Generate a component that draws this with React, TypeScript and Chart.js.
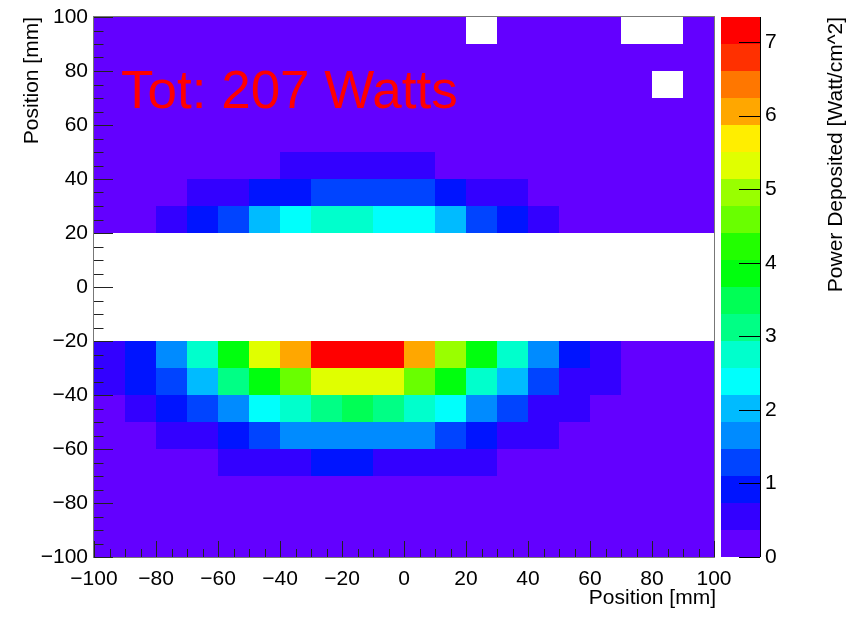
import React, { useEffect, useRef } from 'react';
import { Chart, registerables } from 'chart.js';

Chart.register(...registerables);

// Bin edges along x (mm)
const xEdges = [-100, -90, -80, -70, -60, -50, -40, -30, -20, -10, 0, 10, 20, 30, 40, 50, 60, 70, 80, 90, 100];
// Lower edge (mm) of each row, listed top row first
const yRowLow = [90, 80, 70, 60, 50, 40, 30, 20, 10, 0, -10, -20, -30, -40, -50, -60, -70, -80, -90, -100];

// Power deposited per bin [Watt/cm^2]; 0 = empty bin (not drawn)
const rowY90 = [0.12, 0.1, 0.11, 0.1, 0.12, 0.11, 0.13, 0.12, 0.11, 0.12, 0.1, 0.11, 0, 0.1, 0.12, 0.1, 0.11, 0, 0, 0.1];
const rowY80 = [0.13, 0.12, 0.13, 0.14, 0.13, 0.14, 0.15, 0.14, 0.15, 0.14, 0.13, 0.14, 0.13, 0.12, 0.13, 0.12, 0.12, 0.11, 0.12, 0.11];
const rowY70 = [0.15, 0.14, 0.15, 0.16, 0.17, 0.17, 0.18, 0.18, 0.18, 0.17, 0.17, 0.16, 0.15, 0.15, 0.14, 0.14, 0.13, 0.13, 0, 0.12];
const rowY60 = [0.17, 0.17, 0.18, 0.19, 0.2, 0.21, 0.22, 0.23, 0.23, 0.22, 0.21, 0.2, 0.19, 0.18, 0.17, 0.16, 0.16, 0.15, 0.15, 0.14];
const rowY50 = [0.19, 0.2, 0.21, 0.23, 0.25, 0.27, 0.29, 0.31, 0.32, 0.3, 0.28, 0.26, 0.24, 0.22, 0.2, 0.19, 0.18, 0.17, 0.16, 0.16];
const rowY40 = [0.2, 0.2, 0.22, 0.24, 0.27, 0.32, 0.45, 0.52, 0.56, 0.5, 0.42, 0.32, 0.27, 0.24, 0.22, 0.2, 0.19, 0.18, 0.18, 0.17];
const rowY30 = [0.22, 0.25, 0.3, 0.45, 0.6, 0.8, 0.95, 1.15, 1.3, 1.3, 1.15, 0.82, 0.6, 0.42, 0.3, 0.25, 0.22, 0.2, 0.2, 0.18];
const rowY20 = [0.25, 0.3, 0.5, 0.85, 1.3, 2.0, 2.4, 2.7, 2.8, 2.45, 2.3, 1.95, 1.25, 0.9, 0.5, 0.3, 0.25, 0.22, 0.2, 0.2];
const rowY10 = [0, 0, 0, 0, 0, 0, 0, 0, 0, 0, 0, 0, 0, 0, 0, 0, 0, 0, 0, 0];
const rowY0 = [0, 0, 0, 0, 0, 0, 0, 0, 0, 0, 0, 0, 0, 0, 0, 0, 0, 0, 0, 0];
const rowYm10 = [0, 0, 0, 0, 0, 0, 0, 0, 0, 0, 0, 0, 0, 0, 0, 0, 0, 0, 0, 0];
const rowYm20 = [0, 0, 0, 0, 0, 0, 0, 0, 0, 0, 0, 0, 0, 0, 0, 0, 0, 0, 0, 0];
const rowYm30 = [0.6, 0.95, 1.7, 2.8, 3.85, 5.3, 6.1, 7.2, 7.34, 7.1, 6.0, 4.9, 3.8, 2.7, 1.6, 0.9, 0.5, 0.3, 0.25, 0.2];
const rowYm40 = [0.55, 0.9, 1.25, 2.0, 3.1, 3.9, 4.6, 5.2, 5.4, 5.3, 4.55, 3.8, 2.7, 1.95, 1.2, 0.6, 0.45, 0.3, 0.25, 0.2];
const rowYm50 = [0.3, 0.5, 0.85, 1.25, 1.65, 2.35, 2.8, 3.15, 3.45, 3.1, 2.75, 2.3, 1.6, 1.2, 0.65, 0.45, 0.3, 0.25, 0.2, 0.2];
const rowYm60 = [0.25, 0.3, 0.45, 0.65, 0.95, 1.3, 1.6, 1.7, 1.75, 1.7, 1.55, 1.2, 0.85, 0.6, 0.4, 0.3, 0.25, 0.22, 0.2, 0.18];
const rowYm70 = [0.2, 0.22, 0.26, 0.33, 0.45, 0.6, 0.7, 0.8, 0.78, 0.68, 0.6, 0.5, 0.4, 0.32, 0.27, 0.24, 0.2, 0.2, 0.18, 0.17];
const rowYm80 = [0.18, 0.19, 0.2, 0.22, 0.24, 0.26, 0.28, 0.3, 0.3, 0.29, 0.27, 0.25, 0.23, 0.21, 0.2, 0.19, 0.18, 0.17, 0.16, 0.16];
const rowYm90 = [0.16, 0.17, 0.18, 0.19, 0.2, 0.21, 0.22, 0.23, 0.23, 0.22, 0.21, 0.2, 0.19, 0.18, 0.17, 0.16, 0.16, 0.15, 0.15, 0.14];
const rowYm100 = [0.14, 0.15, 0.15, 0.16, 0.17, 0.18, 0.18, 0.19, 0.19, 0.18, 0.18, 0.17, 0.16, 0.16, 0.15, 0.14, 0.14, 0.13, 0.13, 0.12];

const rows = [rowY90, rowY80, rowY70, rowY60, rowY50, rowY40, rowY30, rowY20, rowY10, rowY0,
  rowYm10, rowYm20, rowYm30, rowYm40, rowYm50, rowYm60, rowYm70, rowYm80, rowYm90, rowYm100];

const binHeight = 10;
const zMax = 7.34;
const nContours = 20;
const palette = ['#6300ff', '#3300ff', '#0014ff', '#0044ff', '#008bff', '#00bbff', '#00fffc', '#00ffcc', '#00ff85', '#00ff55',
  '#00ff0e', '#22ff00', '#69ff00', '#99ff00', '#e0ff00', '#ffee00', '#ffa700', '#ff7700', '#ff3000', '#ff0000'];

const axisTitleX = 'Position [mm]';
const axisTitleY = 'Position [mm]';
const axisTitleZ = 'Power Deposited [Watt/cm^2]';
const totalLabel = 'Tot: 207 Watts';

const FONT = '"Liberation Sans", Arial, Helvetica, sans-serif';

function fmt(v: number) {
  const n = Math.round(v);
  return n < 0 ? '\u2212' + Math.abs(n) : String(n);
}

const heatPlugin = {
  id: 'heat2d',
  beforeDatasetsDraw(chart: any) {
    const { ctx, scales } = chart;
    const xs = scales.x, ys = scales.y;
    ctx.save();
    const pts = chart.data.datasets[0].data;
    const bw = zMax / nContours;
    for (const p of pts) {
      if (!(p.v > 0)) continue;
      const band = Math.min(nContours - 1, Math.floor(p.v / bw));
      const x0 = Math.round(xs.getPixelForValue(p.xlo));
      const x1 = Math.round(xs.getPixelForValue(p.xhi));
      const y0 = Math.round(ys.getPixelForValue(p.ylo));
      const y1 = Math.round(ys.getPixelForValue(p.yhi));
      ctx.fillStyle = palette[band];
      ctx.fillRect(x0, y1, x1 - x0, y0 - y1);
    }
    ctx.restore();
  },
  afterDatasetsDraw(chart: any) {
    const { ctx, chartArea: a, scales } = chart;
    const xs = scales.x, ys = scales.y, zs = scales.z;
    ctx.save();

    // Total label
    ctx.fillStyle = '#ff0000';
    ctx.font = `53px ${FONT}`;
    ctx.textAlign = 'left';
    ctx.textBaseline = 'alphabetic';
    ctx.fillText(totalLabel, 121, 108);

    // Frame
    ctx.strokeStyle = '#777777';
    ctx.lineWidth = 1;
    ctx.strokeRect(Math.round(a.left) - 0.5, Math.round(a.top) - 0.5, Math.round(a.right - a.left) + 1, Math.round(a.bottom - a.top) + 1);

    // Axis ticks (inward)
    ctx.strokeStyle = '#222222';
    ctx.beginPath();
    for (let v = -100; v <= 100; v += 5) {
      const major = v % 20 === 0;
      const px = Math.round(xs.getPixelForValue(v)) + 0.5;
      ctx.moveTo(px, a.bottom);
      ctx.lineTo(px, a.bottom - (major ? 16 : 8));
      const py = Math.round(ys.getPixelForValue(v)) + 0.5;
      ctx.moveTo(a.left, py);
      ctx.lineTo(a.left + (major ? 19 : 9.5), py);
    }
    ctx.stroke();

    // Colour bar
    const cx0 = a.right + 7;
    const cx1 = a.right + 46;
    const bw = zMax / nContours;
    for (let k = 0; k < nContours; k++) {
      const yb = Math.round(zs.getPixelForValue(k * bw));
      const yt = Math.round(zs.getPixelForValue((k + 1) * bw));
      ctx.fillStyle = palette[k];
      ctx.fillRect(cx0, yt, cx1 - cx0, yb - yt);
    }
    ctx.strokeStyle = '#000000';
    ctx.beginPath();
    ctx.moveTo(cx1 + 0.5, zs.top);
    ctx.lineTo(cx1 + 0.5, zs.bottom);
    for (const t of zs.ticks) {
      const py = Math.round(zs.getPixelForValue(t.value)) + 0.5;
      ctx.moveTo(cx1, py);
      ctx.lineTo(cx1 - 21, py);
    }
    ctx.stroke();

    // Axis titles
    ctx.fillStyle = '#000000';
    ctx.font = `21px ${FONT}`;
    ctx.textAlign = 'right';
    ctx.textBaseline = 'alphabetic';
    ctx.fillText(axisTitleX, a.right + 2, 604);

    ctx.save();
    ctx.translate(37.5, a.top);
    ctx.rotate(-Math.PI / 2);
    ctx.textAlign = 'right';
    ctx.fillText(axisTitleY, 0, 0);
    ctx.restore();

    ctx.save();
    ctx.translate(842, a.top);
    ctx.rotate(-Math.PI / 2);
    ctx.textAlign = 'right';
    ctx.fillText(axisTitleZ, 0, 0);
    ctx.restore();

    ctx.restore();
  },
};

function noPad(s: any) {
  s.paddingTop = 0;
  s.paddingBottom = 0;
  s.paddingLeft = 0;
  s.paddingRight = 0;
}

export default function App() {
  const ref = useRef<HTMLCanvasElement | null>(null);
  useEffect(() => {
    if (!ref.current) return;
    const cells: any[] = [];
    rows.forEach((row, r) => {
      row.forEach((v, c) => {
        cells.push({
          x: (xEdges[c] + xEdges[c + 1]) / 2,
          y: yRowLow[r] + binHeight / 2,
          xlo: xEdges[c], xhi: xEdges[c + 1],
          ylo: yRowLow[r], yhi: yRowLow[r] + binHeight,
          v,
        });
      });
    });
    const tickFont = { family: FONT, size: 21 };
    const chart = new Chart(ref.current, {
      type: 'scatter',
      data: { datasets: [{ data: cells, pointRadius: 0, pointHoverRadius: 0, showLine: false }] },
      options: {
        animation: false,
        responsive: false,
        devicePixelRatio: 1,
        events: [],
        layout: { padding: { top: 17, left: 0, right: 0, bottom: 0 } },
        plugins: { legend: { display: false }, tooltip: { enabled: false }, title: { display: false } },
        scales: {
          x: {
            type: 'linear', position: 'bottom', min: -100, max: 100,
            grid: { display: false, drawTicks: false }, border: { display: false },
            ticks: { stepSize: 20, autoSkip: false, maxRotation: 0, includeBounds: false, padding: 10, color: '#000', font: tickFont, callback: (v: any) => fmt(Number(v)) },
            afterFit: (s: any) => { s.height = 61; noPad(s); },
          },
          y: {
            type: 'linear', position: 'left', min: -100, max: 100,
            grid: { display: false, drawTicks: false }, border: { display: false },
            ticks: { stepSize: 20, autoSkip: false, includeBounds: false, padding: 6, color: '#000', font: tickFont, callback: (v: any) => fmt(Number(v)) },
            afterFit: (s: any) => { s.width = 94; noPad(s); },
          },
          z: {
            type: 'linear', position: 'right', min: 0, max: zMax,
            grid: { display: false, drawTicks: false }, border: { display: false },
            ticks: { stepSize: 1, autoSkip: false, includeBounds: false, padding: 51, color: '#000', font: tickFont, callback: (v: any) => fmt(Number(v)) },
            afterFit: (s: any) => { s.width = 151; noPad(s); },
          },
        },
      } as any,
      plugins: [heatPlugin],
    });
    return () => chart.destroy();
  }, []);
  return (
    <div style={{ position: 'fixed', left: 0, top: 0, width: 865, height: 618, background: '#fff' }}>
      <canvas ref={ref} width={865} height={618} style={{ display: 'block', width: 865, height: 618 }} />
    </div>
  );
}
